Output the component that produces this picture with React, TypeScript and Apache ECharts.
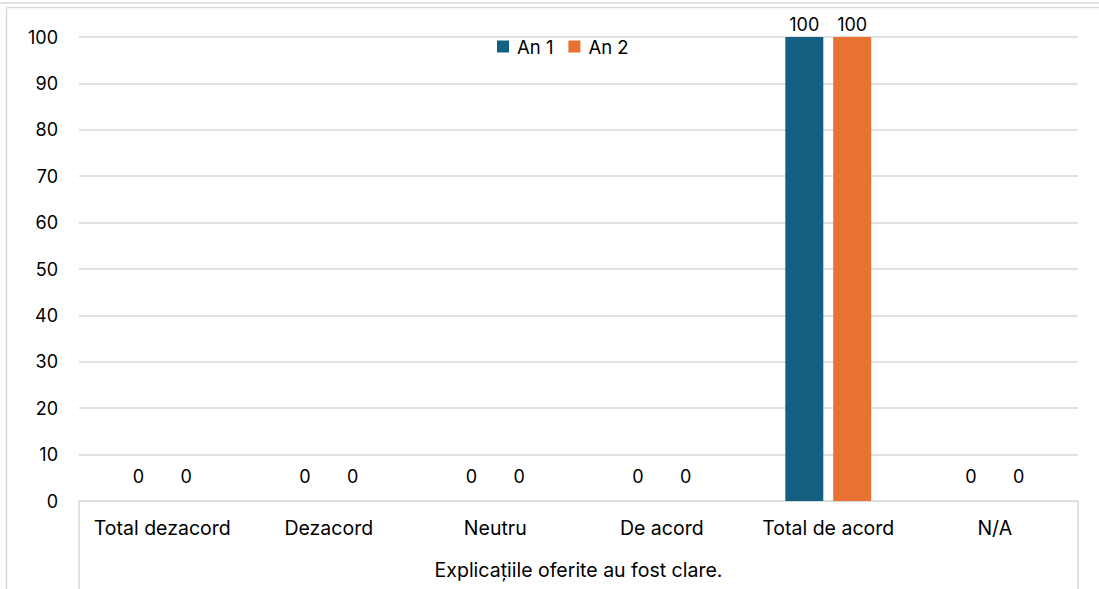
import React, { useEffect, useRef } from "react";
import * as echarts from "echarts";

const categories = ["Total dezacord", "Dezacord", "Neutru", "De acord", "Total de acord", "N/A"];
const groupLabel = ["Explicațiile oferite au fost clare."];
const seriesNames = ["An 1", "An 2"];
const an1 = [0, 0, 0, 0, 100, 0];
const an2 = [0, 0, 0, 0, 100, 0];
const colors = ["#156082", "#E97132"];

const FONT = "Inter";
const FS = 18;
const FS_TEXT = 19.5;

export default function App() {
  const ref = useRef<HTMLDivElement>(null);
  useEffect(() => {
    document.body.style.margin = "0";
    const chart = echarts.init(ref.current!, null, { renderer: "svg" });
    const mk = (arr: number[]) =>
      arr.map((v) => ({ value: v, label: { distance: v === 0 ? 16 : 4 } }));
    chart.setOption({
      animation: false,
      textStyle: { fontFamily: FONT, color: "#000" },
      color: colors,
      legend: {
        data: seriesNames,
        top: 32,
        left: 492,
        itemWidth: 12,
        itemHeight: 12,
        itemGap: 15,
        icon: "rect",
        textStyle: { fontFamily: FONT, fontSize: 18.5, color: "#000", padding: [0, 0, 0, 3] },
      },
      grid: { left: 79, right: 21, top: 37, bottom: 88, containLabel: false },
      xAxis: [
        {
          type: "category",
          data: categories,
          position: "bottom",
          axisLine: { lineStyle: { color: "#d9d9d9", width: 1 } },
          axisTick: { show: false },
          axisLabel: { fontFamily: FONT, fontSize: FS_TEXT, color: "#000", margin: 17, interval: 0 },
        },
        {
          type: "category",
          data: groupLabel,
          position: "bottom",
          axisLine: { show: false },
          axisTick: { show: true, length: 90, inside: false, lineStyle: { color: "#d9d9d9", width: 1.5 } },
          axisLabel: { fontFamily: FONT, fontSize: FS_TEXT, color: "#000", margin: 59 },
        },
      ],
      yAxis: {
        type: "value",
        min: 0,
        max: 100,
        interval: 10,
        axisLine: { show: false },
        axisTick: { show: false },
        splitLine: { lineStyle: { color: "#d9d9d9", width: 1.5 } },
        axisLabel: { fontFamily: FONT, fontSize: FS, color: "#000", margin: 21 },
      },
      series: [
        {
          name: seriesNames[0],
          type: "bar",
          data: mk(an1),
          barWidth: 38,
          barGap: "26%",
          itemStyle: { color: colors[0] },
          label: { show: true, position: "top", fontFamily: FONT, fontSize: FS, color: "#000" },
        },
        {
          name: seriesNames[1],
          type: "bar",
          data: mk(an2),
          barWidth: 38,
          barGap: "26%",
          itemStyle: { color: colors[1] },
          label: { show: true, position: "top", fontFamily: FONT, fontSize: FS, color: "#000" },
        },
      ],
      graphic: [
        { type: "line", shape: { x1: 0, y1: 3, x2: 1099, y2: 3 }, style: { stroke: "#d9d9d9", lineWidth: 1.5 } },
        { type: "line", shape: { x1: 6.5, y1: 7.5, x2: 1099, y2: 7.5 }, style: { stroke: "#d9d9d9", lineWidth: 1.5 } },
        { type: "line", shape: { x1: 6.5, y1: 7.5, x2: 6.5, y2: 589 }, style: { stroke: "#d9d9d9", lineWidth: 1.5 } },
      ],
    });
    return () => chart.dispose();
  }, []);
  return <div ref={ref} style={{ position: "absolute", left: 0, top: 0, width: 1099, height: 589 }} />;
}
